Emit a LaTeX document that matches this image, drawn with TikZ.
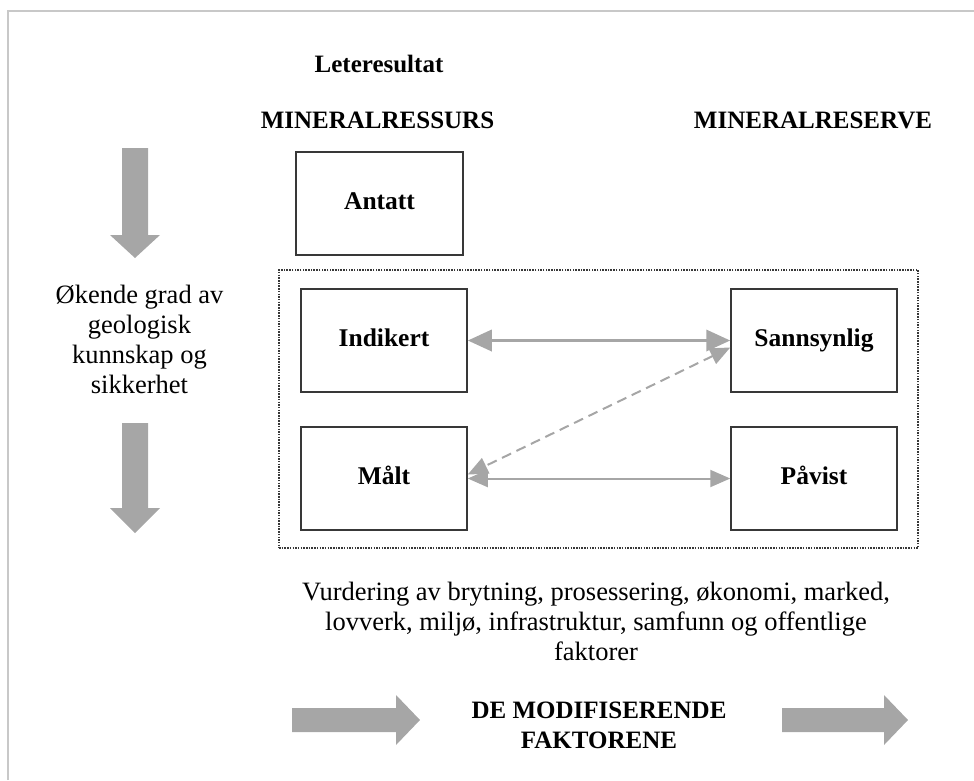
\documentclass[tikz,border=0pt]{standalone}
\usepackage{fontspec}
\setmainfont{Liberation Serif}
\usetikzlibrary{arrows.meta}
\definecolor{arrowgray}{HTML}{A6A6A6}
\definecolor{framegray}{HTML}{C8C8C8}
\definecolor{boxline}{HTML}{383838}
\begin{document}
\begin{tikzpicture}[x=1pt,y=-1pt,
  txt/.style={font=\fontsize{26.5}{30}\selectfont, inner sep=0pt, anchor=base, align=center},
  head/.style={txt, font=\fontsize{25}{30}\selectfont\bfseries},
  stagebox/.style={draw=boxline, line width=1.5pt, fill=white,
    minimum width=166pt, minimum height=103pt, inner sep=0pt,
    font=\fontsize{25.5}{30}\selectfont\bfseries, text height=17pt, text depth=5pt},
  groupframe/.style={draw=boxline, line width=1.2pt, dash pattern=on 1.5pt off 1.2pt,
    inner sep=0pt, minimum width=639pt, minimum height=278pt},
  linkthick/.style={draw=arrowgray, line width=3.5pt,
    {Triangle[length=24pt,width=21pt]}-{Triangle[length=24pt,width=21pt]}},
  linkthin/.style={draw=arrowgray, line width=2pt,
    {Triangle[length=20pt,width=17pt]}-{Triangle[length=20pt,width=17pt]}},
  linkdash/.style={linkthin, dash pattern=on 10pt off 6pt},
  blockarrow/.style={fill=arrowgray}
]
\useasboundingbox (0,0) rectangle (974,780);

% page frame (top and left edges only)
\draw[framegray, line width=2pt] (8,780) -- (8,11) -- (974,11);

% column headings
\node[head] (lete) at (379,72) {Leteresultat};
\node[head] (ressurs) at (377.5,128) {MINERALRESSURS};
\node[head] (reserve) at (813,128) {MINERALRESERVE};

% classification boxes
\node[stagebox, minimum width=167pt] (ant) at (379.5,203.5) {Antatt};
\node[groupframe] (grp) at (598.5,409) {};
\node[stagebox] (ind) at (384,340.5) {Indikert};
\node[stagebox] (sann) at (814,340.5) {Sannsynlig};
\node[stagebox] (malt) at (384,478.5) {Målt};
\node[stagebox] (pav) at (814,478.5) {Påvist};

% links between resource and reserve classes
\draw[linkdash] ([yshift=-7pt]sann.west) -- ([yshift=4pt]malt.east);
\draw[linkthick] (ind.east) -- (sann.west);
\draw[linkthin] (malt.east) -- (pav.west);

% vertical axis: geological confidence
\fill[blockarrow] (122,148) -- (148,148) -- (148,235) -- (160,235) -- (135,258)
  -- (110,235) -- (122,235) -- cycle;
\node[txt] (geo) at (139.5,393) {Økende grad av\\geologisk\\kunnskap og\\sikkerhet};
\fill[blockarrow] (122,423) -- (148,423) -- (148,508) -- (160,508) -- (135,533)
  -- (110,508) -- (122,508) -- cycle;

% horizontal axis: modifying factors
\node[txt] (vurd) at (596,660) {Vurdering av brytning, prosessering, økonomi, marked,\\lovverk, miljø, infrastruktur, samfunn og offentlige\\faktorer};
\fill[blockarrow] (292,708) -- (396,708) -- (396,695) -- (420,720) -- (396,745)
  -- (396,732) -- (292,732) -- cycle;
\node[head] (mod) at (599,748) {DE MODIFISERENDE\\FAKTORENE};
\fill[blockarrow] (782,708) -- (884,708) -- (884,695) -- (908,720) -- (884,745)
  -- (884,732) -- (782,732) -- cycle;
\end{tikzpicture}
\end{document}
